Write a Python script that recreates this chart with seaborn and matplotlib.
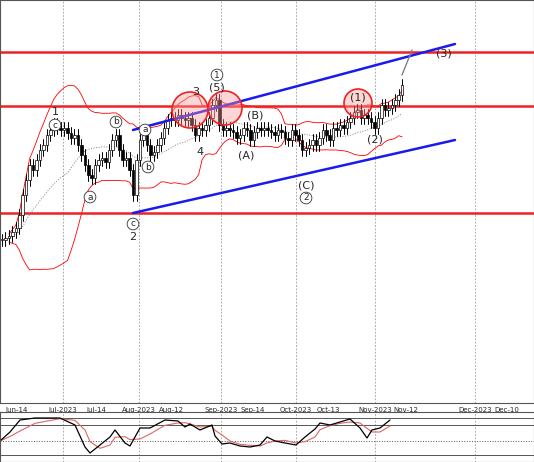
import numpy as np, pandas as pd, matplotlib
matplotlib.use("Agg")
import matplotlib.pyplot as plt
import seaborn as sns
from matplotlib.patches import Ellipse

sns.set_style("white")
plt.rcParams['font.family'] = ['DejaVu Sans']

# closes, in chart units (pixel-read levels)
close_px = [240,238,236,232,228,215,195,180,165,170,160,150,145,135,130,124,128,130,128,133,
            138,135,145,155,165,175,178,165,160,158,162,150,140,135,150,160,158,170,195,160,
            140,135,145,155,152,145,138,128,120,118,120,115,118,120,118,125,135,128,130,125,
            118,105,100,125,130,128,130,132,138,135,128,130,140,132,128,130,128,130,132,135,
            130,132,138,140,130,135,140,150,148,145,140,145,138,130,135,140,128,130,125,128,
            122,118,112,110,118,115,118,122,128,118,105,110,108,105,100,95,85]
closes = [400 - v for v in close_px]
tick_labels = ["Jun-14","Jul-2023","Jul-14","Aug-2023","Aug-12","Sep-2023","Sep-14","Oct-2023",
               "Oct-13","Nov-2023","Nov-12","Dec-2023","Dec-10"]
tick_px = [17,63,96,139,171,221,253,296,328,375,406,475,507]
grid_px = [63,139,221,296,375,475]
osc_px_x = [0,10,20,35,60,75,85,90,100,110,115,125,130,140,150,165,178,185,190,200,212,215,222,
            230,240,250,260,267,275,285,296,305,315,320,330,340,350,360,367,372,380,390]
osc_vals = [441,432,420,418,418,425,447,453,445,437,430,443,446,428,428,420,421,427,424,430,425,
            436,444,443,446,447,445,437,441,443,445,437,429,423,425,422,419,428,438,430,428,420]

PX = 3.45
def bx(p): return (p - 2) / PX
W, H = 534, 462
fig = plt.figure(figsize=(W/100, H/100), dpi=100)
ax = fig.add_axes([0, (H-403)/H, 1, 403/H])
ax2 = fig.add_axes([0, 0, 1, 50/H])
for a in (ax, ax2):
    a.set_xlim(bx(0), bx(W))
    for s in a.spines.values(): s.set_color("#555")
ax.set_ylim(400-403, 400)

n = len(closes)
idx = np.arange(n)
c = np.array(closes, float)
o = np.r_[c[0], c[:-1]]
for i in idx:
    hi, lo = max(o[i], c[i]) + 6, min(o[i], c[i]) - 6
    ax.plot([i, i], [lo, hi], color="black", lw=0.7, zorder=3)
    col = "white" if c[i] >= o[i] else "black"
    ax.bar(i, max(abs(c[i]-o[i]), 1.0), bottom=min(o[i], c[i]), width=0.75,
           color=col, edgecolor="black", lw=0.5, zorder=4)

s = pd.Series(c)
ma = s.rolling(20, min_periods=3).mean()
sd = s.rolling(20, min_periods=3).std()
df = pd.DataFrame({"i": idx, "ma": ma, "up": ma + 2*sd, "lo": ma - 2*sd})
sns.lineplot(data=df, x="i", y="ma", ax=ax, color="gray", lw=0.7, ls=":")
sns.lineplot(data=df, x="i", y="up", ax=ax, color="red", lw=0.6)
sns.lineplot(data=df, x="i", y="lo", ax=ax, color="red", lw=0.6)

for yp in (52, 106, 213):
    ax.axhline(400-yp, color="#ee2222", lw=1.8, zorder=2)
ax.plot([bx(133), bx(455)], [400-213, 400-140], color="#1a1aee", lw=1.8, zorder=5)
ax.plot([bx(133), bx(455)], [400-130, 400-44], color="#1a1aee", lw=1.8, zorder=5)
ax.plot([bx(402), bx(412)], [400-75, 400-50], color="gray", lw=1, zorder=5)
for (cx, cy, r) in [(190,110,18), (225,108,17), (358,103,14)]:
    ax.add_patch(Ellipse((bx(cx), 400-cy), 2*r/PX, 2*r, facecolor=(1,0.6,0.6,0.4),
                         edgecolor="#ee2222", lw=1.2, zorder=6))
for t in grid_px:
    ax.axvline(bx(t), color="#999", lw=0.6, ls=(0,(2,2)), zorder=0)
    ax2.axvline(bx(t), color="#999", lw=0.6, ls=(0,(2,2)), zorder=0)

labels = [("1",55,112,False),("c",55,125,True),("b",116,122,True),("a",90,197,True),
          ("b",148,167,True),("a",145,130,True),("c",133,224,True),("2",133,237,False),
          ("3",196,92,False),("1",217,75,True),("(5)",217,88,False),("4",200,152,False),
          ("(B)",255,115,False),("(A)",246,155,False),("(C)",306,185,False),("2",306,198,True),
          ("(1)",358,98,False),("(2)",375,140,False),("(3)",444,54,False)]
for t, x, y, circ in labels:
    kw = dict(boxstyle="circle,pad=0.15", fc="white", ec="#333", lw=0.6) if circ else None
    ax.text(bx(x), 400-y, t, ha="center", va="center", fontsize=6.5 if circ else 8,
            bbox=kw, zorder=7)
ax.set_xticks([bx(p) for p in tick_px]); ax.set_xticklabels(tick_labels, fontsize=5)
ax.tick_params(axis="x", length=2, pad=1, direction="out")
ax.set_yticks([]); ax.set_xlabel(""); ax.set_ylabel("")

ax2.set_ylim(462, 412)
for yp, ls in [(418,"-"),(425,"-"),(441,":"),(455,"-")]:
    ax2.axhline(yp, color="#555", lw=0.7, ls=ls)
ox = [bx(p) for p in osc_px_x]
osc = pd.DataFrame({"x": ox, "v": osc_vals})
osc["sig"] = osc["v"].rolling(3, min_periods=1).mean()
sns.lineplot(data=osc, x="x", y="sig", ax=ax2, color="#d66", lw=0.8)
sns.lineplot(data=osc, x="x", y="v", ax=ax2, color="black", lw=0.9)
ax2.set_xticks([]); ax2.set_yticks([]); ax2.set_xlabel(""); ax2.set_ylabel("")
fig.savefig("out.png", dpi=100)
